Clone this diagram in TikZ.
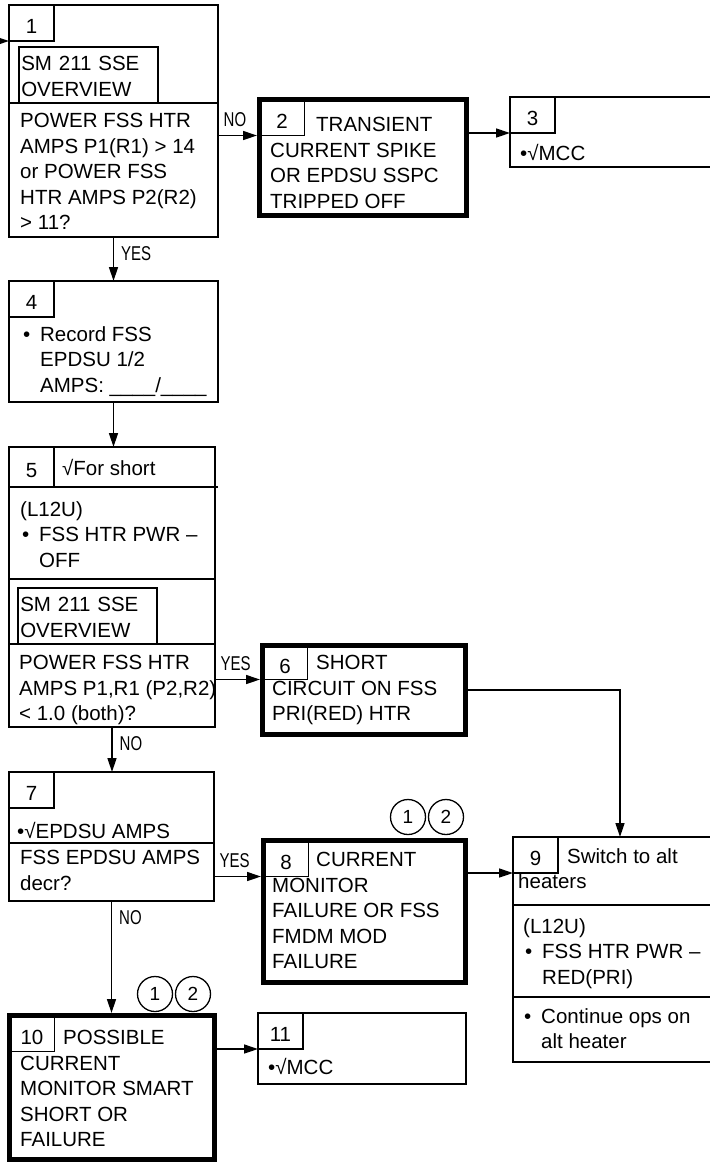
\documentclass[tikz,border=0pt]{standalone}
\usepackage{fontspec}
\setmainfont{Liberation Sans}
\newfontfamily\narrowfont[FakeStretch=0.75]{Liberation Sans}
\usepackage{tikz}
\usetikzlibrary{arrows.meta,calc}
\newcommand\bodyfont{\fontsize{20.5pt}{25.5pt}\selectfont}
\newcommand\notefont{\fontsize{19pt}{19pt}\selectfont}
\newcommand\topstrut{\noindent\rule{0pt}{17.5pt}}
\newcommand\bulletmark{\makebox[19pt][l]{\hspace{2pt}•}}
\newcommand\bulletskip{\hspace*{19pt}}
\tikzset{
  stepbox/.style={draw=black,line width=1.8pt,inner sep=0pt,outer sep=0pt},
  endbox/.style={draw=black,line width=5pt,inner sep=0pt,outer sep=0pt},
  numcell/.style={draw=black,line width=1.2pt,anchor=north west,minimum width=45pt,
    minimum height=36pt,inner sep=0pt,outer sep=0pt,text height=21pt,text depth=0pt,font=\bodyfont},
  steptext/.style={anchor=north west,inner sep=0pt,align=left,font=\bodyfont,
    execute at begin node=\topstrut},
  dispbox/.style={draw=black,line width=1.6pt,anchor=north west,text width=134pt,
    inner xsep=2.5pt,inner ysep=6.5pt,align=left,font=\bodyfont,execute at begin node=\topstrut},
  divline/.style={line width=1.8pt},
  flowarrow/.style={-{Triangle[length=14pt,width=9pt]},line width=1.4pt},
  branchlabel/.style={font={\narrowfont\fontsize{20pt}{20pt}\selectfont},inner sep=0pt,
    text height=14.3pt,text depth=0pt},
  hlabel/.style={branchlabel,pos=0,anchor=south west,xshift=5pt,yshift=8pt},
  vlabel/.style={branchlabel,pos=0,anchor=north west,xshift=7pt,yshift=-8pt},
  notecirc/.style={draw=black,circle,line width=1.3pt,minimum size=35pt,inner sep=0pt,font=\notefont}
}
\begin{document}
\begin{tikzpicture}[x=1pt,y=-1pt]
  \useasboundingbox (0,0) rectangle (710,1163);
  \clip (0,0) rectangle (710,1163);

  % 1: first check
  \node[stepbox,minimum width=209pt,minimum height=232pt] (b1) at (113.5,121) {};
  \node[numcell] (c1) at (b1.north west) {1};
  \node[dispbox] (d1) at (18,46) {SM 211 SSE\\OVERVIEW};
  \draw[divline] (b1.west |- 0,103) -- (b1.east |- 0,103);
  \node[steptext] (q1) at (20,113) {POWER FSS HTR\\AMPS P1(R1) > 14\\or POWER FSS\\HTR AMPS P2(R2)\\> 11?};

  % 2, 3
  \node[endbox,minimum width=207pt,minimum height=116pt] (b2) at (363,157.5) {};
  \node[numcell] (c2) at (b2.north west) {2};
  \node[steptext] (t2) at (270,117) {\hspace*{46pt}TRANSIENT\\CURRENT SPIKE\\OR EPDSU SSPC\\TRIPPED OFF};
  \node[stepbox,minimum width=214pt,minimum height=70pt] (b3) at (617,132) {};
  \node[numcell] (c3) at (b3.north west) {3};
  \node[steptext] (t3) at (520,143) {•√MCC};

  % 4
  \node[stepbox,minimum width=209pt,minimum height=121pt] (b4) at (113.5,341.5) {};
  \node[numcell] (c4) at (b4.north west) {4};
  \node[steptext] (t4) at (21,326) {\bulletmark Record FSS\\\bulletskip EPDSU 1/2\\\bulletskip AMPS: \_\_\_\_/\_\_\_\_};

  % 5
  \node[stepbox,minimum width=206pt,minimum height=280pt] (b5) at (112,587) {};
  \node[numcell,minimum height=40pt] (c5) at (b5.north west) {5};
  \node[steptext] (h5) at (62,458) {√For short};
  \draw[divline] (b5.west |- c5.south west) -- ($(b5.east |- c5.south west)+(3,0)$);
  \node[steptext] (t5) at (20,501) {(L12U)\\\bulletmark FSS HTR PWR –\\\bulletskip OFF};
  \draw[divline] (b5.west |- 0,579) -- (b5.east |- 0,579);
  \node[dispbox] (d5) at (17,587) {SM 211 SSE\\OVERVIEW};
  \draw[divline] (b5.west |- 0,644) -- (b5.east |- 0,644);
  \node[steptext] (q5) at (19,655) {POWER FSS HTR\\AMPS P1,R1 (P2,R2)\\< 1.0 (both)?};

  % 6
  \node[endbox,minimum width=203pt,minimum height=89pt] (b6) at (364,690) {};
  \node[numcell,minimum height=34pt] (c6) at (b6.north west) {6};
  \node[steptext] (t6) at (272,655) {\hspace*{44pt}SHORT\\CIRCUIT ON FSS\\PRI(RED) HTR};

  % 7
  \node[stepbox,minimum width=205pt,minimum height=129pt] (b7) at (111.5,836.5) {};
  \node[numcell] (c7) at (b7.north west) {7};
  \node[steptext] (t7) at (17,821) {•√EPDSU AMPS};
  \draw[divline] (b7.west |- 0,843) -- (b7.east |- 0,843);
  \node[steptext] (q7) at (20,850) {FSS EPDSU AMPS\\decr?};

  % 8
  \node[endbox,minimum width=202pt,minimum height=142pt] (b8) at (364.5,911.5) {};
  \node[numcell] (c8) at (b8.north west) {8};
  \node[steptext] (t8) at (272,852) {\hspace*{44pt}CURRENT\\MONITOR\\FAILURE OR FSS\\FMDM MOD\\FAILURE};
  \node[notecirc] (n8a) at (408,817) {1};
  \node[notecirc] (n8b) at (446,817) {2};

  % 9
  \node[stepbox,minimum width=214pt,minimum height=225pt] (b9) at (620,949.5) {};
  \node[numcell] (c9) at (b9.north west) {9};
  \node[steptext] (h9) at (518,848) {\hspace*{49pt}Switch to alt\\heaters};
  \draw[divline] (b9.west |- 0,905) -- (b9.east |- 0,905);
  \node[steptext] (t9) at (523,918) {(L12U)\\\bulletmark FSS HTR PWR –\\\bulletskip RED(PRI)};
  \draw[divline] (b9.west |- 0,997) -- (b9.east |- 0,997);
  \node[steptext] (u9) at (522,1008) {\bulletmark Continue ops on\\\bulletskip alt heater};

  % 10, 11
  \node[endbox,minimum width=205pt,minimum height=144pt] (b10) at (112,1087.5) {};
  \node[numcell] (c10) at (b10.north west) {10};
  \node[steptext] (t10) at (20,1030) {\hspace*{43pt}POSSIBLE\\CURRENT\\MONITOR SMART\\SHORT OR\\FAILURE};
  \node[notecirc] (n10a) at (155,994) {1};
  \node[notecirc] (n10b) at (193,994) {2};
  \node[stepbox,minimum width=208pt,minimum height=71pt] (b11) at (362,1048.5) {};
  \node[numcell] (c11) at (b11.north west) {11};
  \node[steptext] (t11) at (268,1057) {•√MCC};

  % connectors
  \coordinate (entry) at (-30,41);
  \draw[flowarrow] (entry) -- (c1.south west);
  \draw[flowarrow,shorten >=2.5pt] (b1.east |- c2.south west) -- node[hlabel] (no12) {NO} (c2.south west);
  \draw[flowarrow] (b2.east |- c3.south west) -- (c3.south west);
  \draw[flowarrow] (b1.south) -- node[vlabel] (yes14) {YES} (b4.north);
  \draw[flowarrow] (b4.south) -- (b4.south |- b5.north);
  \draw[flowarrow,shorten >=2.5pt] (b5.east |- c6.south west) -- node[hlabel] (yes56) {YES} (c6.south west);
  \draw[flowarrow] (b6.east) -| (b9.north);
  \draw[flowarrow] (b5.south) -- node[vlabel] (no57) {NO} (b5.south |- b7.north);
  \draw[flowarrow,shorten >=2.5pt] (b7.east |- c8.south west) -- node[hlabel] (yes78) {YES} (c8.south west);
  \draw[flowarrow] (b8.east |- c9.south west) -- (c9.south west);
  \draw[flowarrow,shorten >=2.5pt] (b7.south) -- node[vlabel] (no710) {NO} (b7.south |- b10.north);
  \draw[flowarrow] (b10.east |- c11.south west) -- (c11.south west);
\end{tikzpicture}
\end{document}
